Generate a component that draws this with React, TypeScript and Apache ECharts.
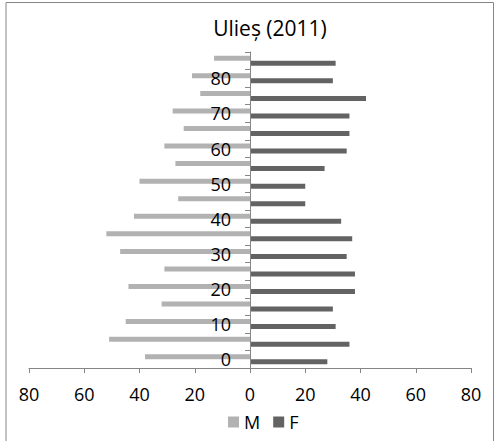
import React, { useEffect, useRef } from "react";
import * as echarts from "echarts";

// Age groups (lower bound of each 5-year band), bottom to top
const ageGroups = ["0", "5", "10", "15", "20", "25", "30", "35", "40", "45", "50", "55", "60", "65", "70", "75", "80", "85"];
// Population counts per age group
const maleCounts = [38, 51, 45, 32, 44, 31, 47, 52, 42, 26, 40, 27, 31, 24, 28, 18, 21, 13];
const femaleCounts = [28, 36, 31, 30, 38, 38, 35, 37, 33, 20, 20, 27, 35, 36, 36, 42, 30, 31];

const seriesNames = ["M", "F"];
const chartTitle = "Ulieș (2011)";

const FONT = "'Open Sans', sans-serif";
const AXIS_GRAY = "#868686";

// Plot area in pixels
const GRID_LEFT = 29;
const GRID_RIGHT = 24;
const PLOT_WIDTH = 495 - GRID_LEFT - GRID_RIGHT;

export default function App() {
  const ref = useRef<HTMLDivElement>(null);

  useEffect(() => {
    if (!ref.current) return;
    const chart = echarts.init(ref.current, null, { renderer: "svg" });
    chart.setOption({
      animation: false,
      backgroundColor: "#ffffff",
      textStyle: { fontFamily: FONT },
      graphic: [
        {
          type: "rect",
          shape: { x: 6, y: 2.5, width: 487.5, height: 470 },
          style: { fill: "none", stroke: AXIS_GRAY, lineWidth: 1 },
          silent: true,
          z: -1,
        },
        {
          type: "text",
          x: 270,
          y: 28,
          style: {
            text: chartTitle,
            fontFamily: FONT,
            fontSize: 21,
            fill: "#000000",
            textAlign: "center",
            textVerticalAlign: "middle",
          },
        },
      ],
      legend: {
        data: seriesNames,
        left: 223,
        top: 408,
        icon: "rect",
        itemWidth: 11,
        itemHeight: 11,
        itemGap: 13,
        textStyle: { fontFamily: FONT, fontSize: 18, color: "#000000", padding: [0, 0, 0, 0] },
      },
      grid: {
        left: GRID_LEFT,
        right: GRID_RIGHT,
        top: 52,
        bottom: 73,
        containLabel: false,
        outerBoundsMode: "none",
      },
      xAxis: {
        type: "value",
        min: -80,
        max: 80,
        interval: 20,
        axisLine: { show: true, lineStyle: { color: AXIS_GRAY, width: 1 } },
        axisTick: { show: true, length: 5, lineStyle: { color: AXIS_GRAY } },
        splitLine: { show: false },
        axisLabel: {
          margin: 17,
          fontSize: 18,
          fontFamily: FONT,
          color: "#000000",
          formatter: (v: number) => String(Math.abs(v)),
        },
      },
      yAxis: {
        type: "category",
        data: ageGroups,
        position: "left",
        // shift the whole axis (line, ticks, labels) to the zero of the value axis
        offset: -PLOT_WIDTH / 2,
        z: 3,
        axisLine: { show: true, onZero: false, lineStyle: { color: AXIS_GRAY, width: 1 } },
        axisTick: { show: true, length: 5, interval: 0, lineStyle: { color: AXIS_GRAY } },
        axisLabel: {
          interval: 1,
          margin: 19,
          fontSize: 18,
          fontFamily: FONT,
          color: "#000000",
        },
        splitLine: { show: false },
      },
      series: [
        {
          name: seriesNames[0],
          type: "bar",
          data: maleCounts.map((v) => -v),
          barWidth: 5,
          barGap: "0%",
          itemStyle: { color: "#b2b2b2" },
        },
        {
          name: seriesNames[1],
          type: "bar",
          data: femaleCounts,
          barWidth: 5,
          barGap: "0%",
          itemStyle: { color: "#636363" },
        },
      ],
    });
    return () => chart.dispose();
  }, []);

  return (
    <div
      ref={ref}
      style={{ position: "fixed", left: 0, top: 0, width: 495, height: 441 }}
    />
  );
}
